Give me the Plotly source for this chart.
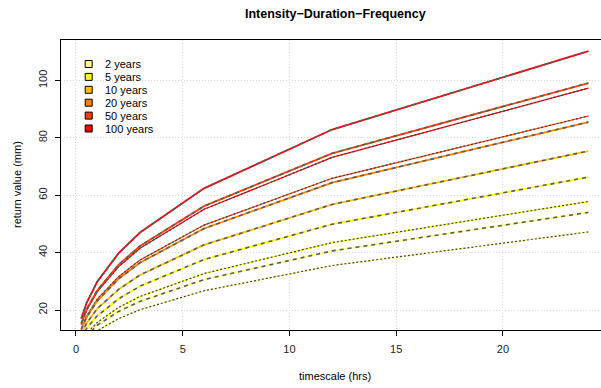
import plotly.graph_objects as go

# ---------------- data ----------------
durations = [0.25, 0.5, 1, 2, 3, 6, 12, 24]   # hrs

labels = ["2 years", "5 years", "10 years", "20 years", "50 years", "100 years"]
colors = ["#FFFF80", "#FFFF00", "#FFBF00", "#FF8000", "#FF4000", "#FF0000"]

rv_2 = [8.3, 11.0, 14.7, 19.5, 23.0, 30.6, 40.6, 54.0]
rv_5 = [10.2, 13.6, 18.0, 23.9, 28.3, 37.6, 49.9, 66.3]
rv_10 = [11.6, 15.4, 20.5, 27.2, 32.2, 42.7, 56.8, 75.4]
rv_20 = [13.2, 17.5, 23.2, 30.9, 36.5, 48.4, 64.4, 85.5]
rv_50 = [15.3, 20.3, 26.9, 35.8, 42.3, 56.2, 74.6, 99.1]
rv_100 = [17.0, 22.5, 29.9, 39.8, 47.0, 62.4, 82.9, 110.2]
main_series = [rv_2, rv_5, rv_10, rv_20, rv_50, rv_100]

# secondary (thin dotted) curves: (colour index, values)
alt_2 = [7.3, 9.7, 12.8, 17.0, 20.1, 26.7, 35.5, 47.2]
alt_5 = [8.9, 11.8, 15.7, 20.9, 24.7, 32.7, 43.5, 57.8]
alt_50 = [13.5, 17.9, 23.8, 31.6, 37.4, 49.6, 65.9, 87.6]
alt_100 = [15.0, 19.9, 26.4, 35.1, 41.5, 55.1, 73.2, 97.3]
alt_series = [(0, alt_2), (1, alt_5), (4, alt_50), (5, alt_100)]

x_ticks = [0, 5, 10, 15, 20]
y_ticks = [20, 40, 60, 80, 100]

# ---------------- figure ----------------
W, H = 601, 388
ML, MR, MT, MB = 61, 0, 40, 58
PW, PH = W - ML - MR, H - MT - MB
FONT = "Liberation Sans, Arial, Helvetica, sans-serif"
GREY = "#5A5A5A"

fig = go.Figure()

for ci, vals in alt_series:
    fig.add_trace(go.Scatter(x=durations, y=vals, mode="lines",
                             line=dict(color=colors[ci], width=1.2),
                             showlegend=False, hoverinfo="skip"))
    fig.add_trace(go.Scatter(x=durations, y=vals, mode="lines",
                             line=dict(color="#404040", width=1.2, dash="2px,2px"),
                             showlegend=False, hoverinfo="skip"))

for col, vals in zip(colors, main_series):
    fig.add_trace(go.Scatter(x=durations, y=vals, mode="lines",
                             line=dict(color=col, width=1.8),
                             showlegend=False, hoverinfo="skip"))
    fig.add_trace(go.Scatter(x=durations, y=vals, mode="lines",
                             line=dict(color=GREY, width=1.6, dash="4px,4px"),
                             showlegend=False, hoverinfo="skip"))

# ---------------- legend (drawn manually, R style) ----------------
def px_to_paper_x(px):
    return (px - ML) / PW

def px_to_paper_y(py):
    return (H - MB - py) / PH

shapes = []
annotations = []
box_cx, box_half = 88.7, 3.5
text_x = 102.5
row0, row_step = 64.0, 12.9
for i, (lab, col) in enumerate(zip(labels, colors)):
    cy = row0 + i * row_step
    shapes.append(dict(type="rect", xref="paper", yref="paper",
                       x0=px_to_paper_x(box_cx - box_half), x1=px_to_paper_x(box_cx + box_half),
                       y0=px_to_paper_y(cy + box_half), y1=px_to_paper_y(cy - box_half),
                       fillcolor=col, line=dict(color="black", width=1)))
    annotations.append(dict(text=lab, xref="paper", yref="paper",
                            x=px_to_paper_x(text_x), y=px_to_paper_y(cy),
                            xanchor="left", yanchor="middle", showarrow=False,
                            font=dict(family=FONT, size=11, color="black")))

# title and axis titles
annotations.append(dict(text="<b>Intensity\u2212Duration\u2212Frequency</b>", xref="paper", yref="paper",
                        x=px_to_paper_x(335), y=px_to_paper_y(14), xanchor="center", yanchor="middle",
                        showarrow=False, font=dict(family=FONT, size=12.5, color="black")))
annotations.append(dict(text="timescale (hrs)", xref="paper", yref="paper",
                        x=px_to_paper_x(335), y=px_to_paper_y(376), xanchor="center", yanchor="middle",
                        showarrow=False, font=dict(family=FONT, size=11, color="black")))
annotations.append(dict(text="return value (mm)", xref="paper", yref="paper",
                        x=px_to_paper_x(17), y=px_to_paper_y(185), xanchor="center", yanchor="middle",
                        textangle=-90, showarrow=False, font=dict(family=FONT, size=11, color="black")))

fig.update_layout(
    width=W, height=H,
    margin=dict(l=ML, r=MR, t=MT, b=MB),
    paper_bgcolor="white", plot_bgcolor="white",
    font=dict(family=FONT, size=11, color="black"),
    shapes=shapes, annotations=annotations,
    showlegend=False,
)

fig.update_xaxes(range=[-0.70, 24.59], tickvals=x_ticks, ticks="outside", ticklen=5,
                 tickcolor="black", showline=True, linecolor="black", linewidth=1, mirror=True,
                 showgrid=True, gridcolor="#D9D9D9", griddash="1px,2px", gridwidth=1,
                 zeroline=False, ticklabelstandoff=4, tickfont=dict(size=11, family=FONT, color="#222"))
fig.update_yaxes(range=[13.03, 114.1], tickvals=y_ticks, ticks="outside", ticklen=5,
                 tickcolor="black", showline=True, linecolor="black", linewidth=1, mirror=False,
                 showgrid=True, gridcolor="#D9D9D9", griddash="1px,2px", gridwidth=1,
                 zeroline=False, tickangle=-90, ticklabelstandoff=4,
                 tickfont=dict(size=11, family=FONT, color="#222"))

fig.write_html("out.html")
